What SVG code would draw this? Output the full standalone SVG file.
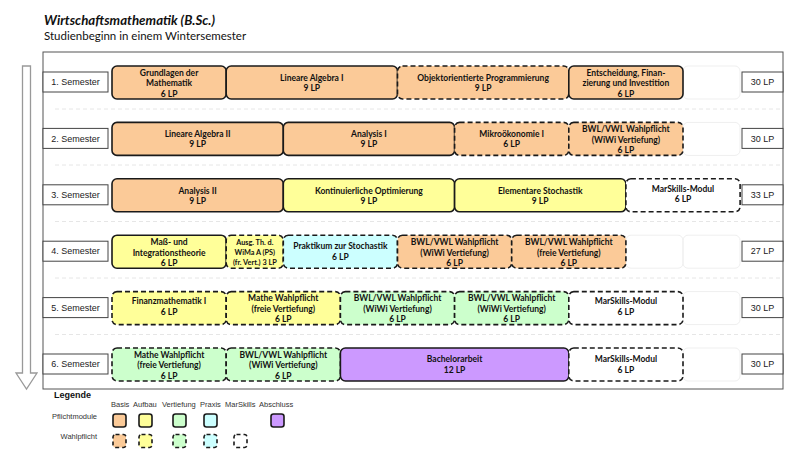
<svg xmlns="http://www.w3.org/2000/svg" width="800" height="464" viewBox="0 0 800 464">
<style>
.m{stroke:#1a1a1a;stroke-width:1.6}
.d{stroke-dasharray:5 3}
.b{fill:#FBCA98}.a{fill:#FFFF99}.v{fill:#CCFFCC}.p{fill:#CCFFFF}.s{fill:#FFFFFF}.x{fill:#CC99FF}
.t{font-family:Lato,"Liberation Sans",sans-serif;font-weight:bold;font-size:8.5px;fill:#111;text-anchor:middle}
.t7{font-size:7.3px}
.lab{fill:#fff;stroke:#444;stroke-width:1}
.lt{font-family:"Liberation Sans",Arial,sans-serif;font-size:9px;fill:#222;text-anchor:middle}
.cell{fill:none;stroke:#efefef;stroke-width:1}
.sep{stroke:#e6e6e6;stroke-width:1;stroke-dasharray:4 3}
.lg{font-family:"Liberation Sans",Arial,sans-serif;font-size:7.5px;fill:#333}
</style>
<rect width="800" height="464" fill="#fff"/>
<g id="title">
<text x="44" y="25" font-family="Lato,'Liberation Sans',sans-serif" font-weight="bold" font-style="italic" font-size="13.3" fill="#111">Wirtschaftsmathematik (B.Sc.)</text>
<text x="44" y="40" font-family="Lato,'Liberation Sans',sans-serif" font-size="11.5" fill="#111">Studienbeginn in einem Wintersemester</text>
</g>
<g id="frame">
<rect x="43" y="52" width="740" height="337" fill="none" stroke="#555" stroke-width="1"/>
<line class="sep" x1="55" y1="109" x2="783" y2="109"/>
<line class="sep" x1="55" y1="165" x2="783" y2="165"/>
<line class="sep" x1="55" y1="221.5" x2="783" y2="221.5"/>
<line class="sep" x1="55" y1="278" x2="783" y2="278"/>
<line class="sep" x1="55" y1="334.5" x2="783" y2="334.5"/>
<rect class="cell" x="683" y="66" width="57" height="33" rx="5"/>
<rect class="cell" x="683" y="122.4" width="57" height="33" rx="5"/>
<rect class="cell" x="626" y="235.2" width="57" height="33" rx="5"/>
<rect class="cell" x="683" y="235.2" width="57" height="33" rx="5"/>
<rect class="cell" x="683" y="291.6" width="57" height="33" rx="5"/>
<rect class="cell" x="683" y="348" width="57" height="33" rx="5"/>
</g>
<g id="arrow">
<polygon points="22.5,66 30.5,66 30.5,373 37,373 26.5,389 16,373 22.5,373" fill="#fff" stroke="#999" stroke-width="1.3"/>
</g>
<g id="labels">
<rect class="lab" x="43" y="72" width="65" height="20"/><text class="lt" x="75.5" y="85.2">1. Semester</text>
<rect class="lab" x="43" y="128.4" width="65" height="20"/><text class="lt" x="75.5" y="141.6">2. Semester</text>
<rect class="lab" x="43" y="184.8" width="65" height="20"/><text class="lt" x="75.5" y="198">3. Semester</text>
<rect class="lab" x="43" y="241.2" width="65" height="20"/><text class="lt" x="75.5" y="254.4">4. Semester</text>
<rect class="lab" x="43" y="297.6" width="65" height="20"/><text class="lt" x="75.5" y="310.8">5. Semester</text>
<rect class="lab" x="43" y="354" width="65" height="20"/><text class="lt" x="75.5" y="367.2">6. Semester</text>
<rect class="lab" x="742" y="72" width="41" height="20"/><text class="lt" x="762.5" y="85.2">30 LP</text>
<rect class="lab" x="742" y="128.4" width="41" height="20"/><text class="lt" x="762.5" y="141.6">30 LP</text>
<rect class="lab" x="742" y="184.8" width="41" height="20"/><text class="lt" x="762.5" y="198">33 LP</text>
<rect class="lab" x="742" y="241.2" width="41" height="20"/><text class="lt" x="762.5" y="254.4">27 LP</text>
<rect class="lab" x="742" y="297.6" width="41" height="20"/><text class="lt" x="762.5" y="310.8">30 LP</text>
<rect class="lab" x="742" y="354" width="41" height="20"/><text class="lt" x="762.5" y="367.2">30 LP</text>
</g>
<g id="sem1">
<g id="grundlagen"><rect class="m b" x="112" y="66" width="114.2" height="33" rx="5"/><text class="t" x="169.1" y="75.8">Grundlagen der</text><text class="t" x="169.1" y="86.3">Mathematik</text><text class="t" x="169.1" y="96.8">6 LP</text></g>
<g id="la1"><rect class="m b" x="226.2" y="66" width="171.3" height="33" rx="5"/><text class="t" x="311.8" y="80.7">Lineare Algebra I</text><text class="t" x="311.8" y="90.7">9 LP</text></g>
<g id="oop"><rect class="m b d" x="397.5" y="66" width="171.3" height="33" rx="5"/><text class="t" x="483.1" y="80.7">Objektorientierte Programmierung</text><text class="t" x="483.1" y="90.7">9 LP</text></g>
<g id="efi"><rect class="m b" x="568.8" y="66" width="114.2" height="33" rx="5"/><text class="t" x="625.9" y="75.8">Entscheidung, Finan-</text><text class="t" x="625.9" y="86.3">zierung und Investition</text><text class="t" x="625.9" y="96.8">6 LP</text></g>
</g>
<g id="sem2">
<g id="la2"><rect class="m b" x="112" y="122.4" width="171.3" height="33" rx="5"/><text class="t" x="197.6" y="137.1">Lineare Algebra II</text><text class="t" x="197.6" y="147.1">9 LP</text></g>
<g id="ana1"><rect class="m b" x="283.3" y="122.4" width="171.3" height="33" rx="5"/><text class="t" x="368.9" y="137.1">Analysis I</text><text class="t" x="368.9" y="147.1">9 LP</text></g>
<g id="mikro"><rect class="m b d" x="454.6" y="122.4" width="114.2" height="33" rx="5"/><text class="t" x="511.7" y="137.1">Mikroökonomie I</text><text class="t" x="511.7" y="147.1">6 LP</text></g>
<g id="bwl2"><rect class="m b d" x="568.8" y="122.4" width="114.2" height="33" rx="5"/><text class="t" x="625.9" y="132.2">BWL/VWL Wahlpflicht</text><text class="t" x="625.9" y="142.7">(WiWi Vertiefung)</text><text class="t" x="625.9" y="153.2">6 LP</text></g>
</g>
<g id="sem3">
<g id="ana2"><rect class="m b" x="112" y="178.8" width="171.3" height="33" rx="5"/><text class="t" x="197.6" y="193.5">Analysis II</text><text class="t" x="197.6" y="203.5">9 LP</text></g>
<g id="kopt"><rect class="m a" x="283.3" y="178.8" width="171.3" height="33" rx="5"/><text class="t" x="368.9" y="193.5">Kontinuierliche Optimierung</text><text class="t" x="368.9" y="203.5">9 LP</text></g>
<g id="estoch"><rect class="m a" x="454.6" y="178.8" width="171.3" height="33" rx="5"/><text class="t" x="540.2" y="193.5">Elementare Stochastik</text><text class="t" x="540.2" y="203.5">9 LP</text></g>
<g id="mars3"><rect class="m s d" x="625.9" y="178.8" width="114.2" height="33" rx="5"/><text class="t" x="683" y="191.5">MarSkills-Modul</text><text class="t" x="683" y="201.5">6 LP</text></g>
</g>
<g id="sem4">
<g id="mass"><rect class="m a" x="112" y="235.2" width="114.2" height="33" rx="5"/><text class="t" x="169.1" y="245">Maß- und</text><text class="t" x="169.1" y="255.5">Integrationstheorie</text><text class="t" x="169.1" y="266">6 LP</text></g>
<g id="ausg"><rect class="m a d" x="226.2" y="235.2" width="57.1" height="33" rx="5"/><text class="t t7" x="254.8" y="244.7">Ausg. Th. d.</text><text class="t t7" x="254.8" y="254.9">WiMa A (PS)</text><text class="t t7" x="254.8" y="265.1">(fr. Vert.) 3 LP</text></g>
<g id="prak"><rect class="m p d" x="283.3" y="235.2" width="114.2" height="33" rx="5"/><text class="t" x="340.4" y="249.4">Praktikum zur Stochastik</text><text class="t" x="340.4" y="259.9">6 LP</text></g>
<g id="bwl4a"><rect class="m b d" x="397.5" y="235.2" width="114.2" height="33" rx="5"/><text class="t" x="454.6" y="245">BWL/VWL Wahlpflicht</text><text class="t" x="454.6" y="255.5">(WiWi Vertiefung)</text><text class="t" x="454.6" y="266">6 LP</text></g>
<g id="bwl4b"><rect class="m b d" x="511.7" y="235.2" width="114.2" height="33" rx="5"/><text class="t" x="568.8" y="245">BWL/VWL Wahlpflicht</text><text class="t" x="568.8" y="255.5">(freie Vertiefung)</text><text class="t" x="568.8" y="266">6 LP</text></g>
</g>
<g id="sem5">
<g id="fin"><rect class="m a d" x="112" y="291.6" width="114.2" height="33" rx="5"/><text class="t" x="169.1" y="304.3">Finanzmathematik I</text><text class="t" x="169.1" y="315.3">6 LP</text></g>
<g id="mathe5"><rect class="m a d" x="226.2" y="291.6" width="114.2" height="33" rx="5"/><text class="t" x="283.3" y="301.4">Mathe Wahlpflicht</text><text class="t" x="283.3" y="311.9">(freie Vertiefung)</text><text class="t" x="283.3" y="322.4">6 LP</text></g>
<g id="bwl5a"><rect class="m v d" x="340.4" y="291.6" width="114.2" height="33" rx="5"/><text class="t" x="397.5" y="301.4">BWL/VWL Wahlpflicht</text><text class="t" x="397.5" y="311.9">(WiWi Vertiefung)</text><text class="t" x="397.5" y="322.4">6 LP</text></g>
<g id="bwl5b"><rect class="m v d" x="454.6" y="291.6" width="114.2" height="33" rx="5"/><text class="t" x="511.7" y="301.4">BWL/VWL Wahlpflicht</text><text class="t" x="511.7" y="311.9">(WiWi Vertiefung)</text><text class="t" x="511.7" y="322.4">6 LP</text></g>
<g id="mars5"><rect class="m s d" x="568.8" y="291.6" width="114.2" height="33" rx="5"/><text class="t" x="625.9" y="304.3">MarSkills-Modul</text><text class="t" x="625.9" y="315.3">6 LP</text></g>
</g>
<g id="sem6">
<g id="mathe6"><rect class="m v d" x="112" y="348" width="114.2" height="33" rx="5"/><text class="t" x="169.1" y="357.8">Mathe Wahlpflicht</text><text class="t" x="169.1" y="368.3">(freie Vertiefung)</text><text class="t" x="169.1" y="378.8">6 LP</text></g>
<g id="bwl6"><rect class="m v d" x="226.2" y="348" width="114.2" height="33" rx="5"/><text class="t" x="283.3" y="357.8">BWL/VWL Wahlpflicht</text><text class="t" x="283.3" y="368.3">(WiWi Vertiefung)</text><text class="t" x="283.3" y="378.8">6 LP</text></g>
<g id="ba"><rect class="m x" x="340.4" y="348" width="228.4" height="33" rx="5" stroke-width="2"/><text class="t" x="454.6" y="361.7">Bachelorarbeit</text><text class="t" x="454.6" y="372.7">12 LP</text></g>
<g id="mars6"><rect class="m s d" x="568.8" y="348" width="114.2" height="33" rx="5"/><text class="t" x="625.9" y="361.7">MarSkills-Modul</text><text class="t" x="625.9" y="372.7">6 LP</text></g>
</g>
<g id="legend">
<text x="54" y="397.5" font-family="'Liberation Sans',Arial,sans-serif" font-weight="bold" font-size="9" fill="#111">Legende</text>
<text class="lg" x="111" y="407">Basis</text>
<text class="lg" x="133" y="407">Aufbau</text>
<text class="lg" x="162" y="407">Vertiefung</text>
<text class="lg" x="200" y="407">Praxis</text>
<text class="lg" x="225" y="407">MarSkills</text>
<text class="lg" x="259" y="407">Abschluss</text>
<text class="lg" x="97" y="419" text-anchor="end">Pflichtmodule</text>
<text class="lg" x="97" y="439" text-anchor="end">Wahlpflicht</text>
<rect class="m b" x="113" y="414" width="13" height="13" rx="2.5"/>
<rect class="m a" x="139" y="414" width="13" height="13" rx="2.5"/>
<rect class="m v" x="173" y="414" width="13" height="13" rx="2.5"/>
<rect class="m p" x="204" y="414" width="13" height="13" rx="2.5"/>
<rect class="m x" x="271" y="414" width="13" height="13" rx="2.5"/>
<rect class="m b" x="113" y="434.5" width="13" height="13" rx="2.5" stroke-dasharray="4 3"/>
<rect class="m a" x="139" y="434.5" width="13" height="13" rx="2.5" stroke-dasharray="4 3"/>
<rect class="m v" x="173" y="434.5" width="13" height="13" rx="2.5" stroke-dasharray="4 3"/>
<rect class="m p" x="204" y="434.5" width="13" height="13" rx="2.5" stroke-dasharray="4 3"/>
<rect class="m s" x="234" y="434.5" width="13" height="13" rx="2.5" stroke-dasharray="4 3"/>
</g>
</svg>
